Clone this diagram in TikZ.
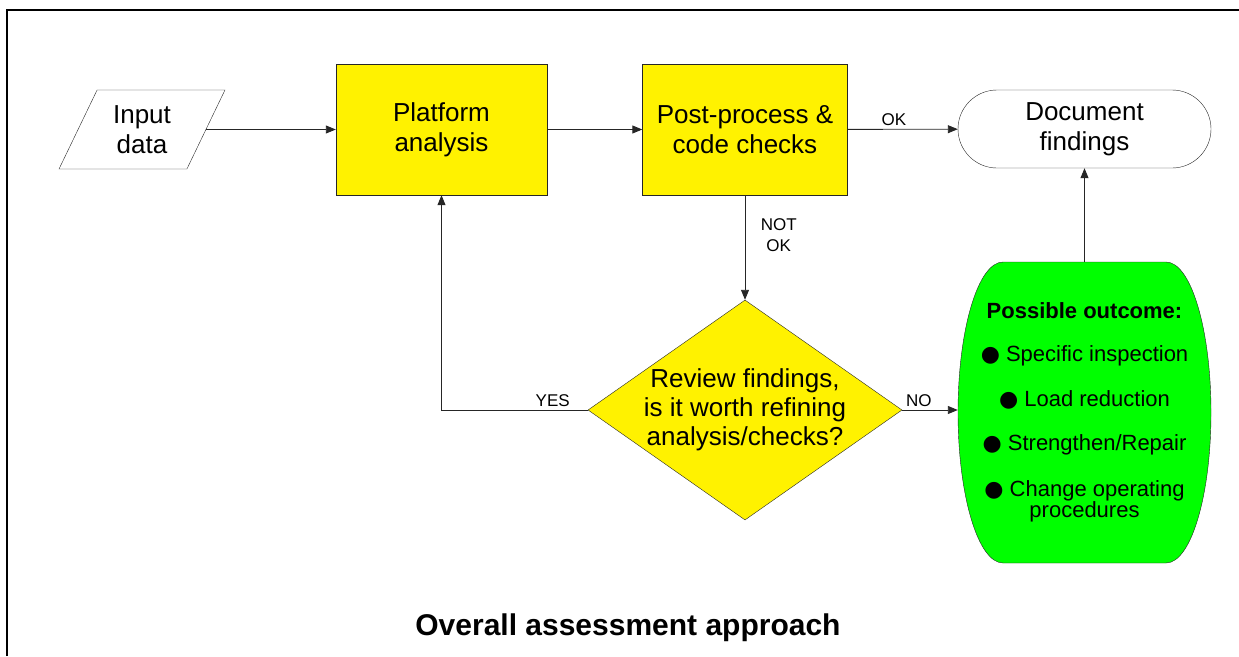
\documentclass[tikz,border=0pt]{standalone}
\usepackage{fontspec}
\setmainfont{Liberation Sans}
\newfontfamily\symfont{DejaVu Sans}
\usetikzlibrary{shapes.geometric,arrows.meta}

\begin{document}
\begin{tikzpicture}[x=1pt, y=-1pt,
box/.style={draw=black!85, fill=yellow, minimum width=211pt, minimum height=131pt, align=center, font=\fontsize{26}{30}\selectfont},
lbl/.style={font=\fontsize{17}{21}\selectfont, align=center},
arr/.style={draw=black!85, line width=0.9pt, -{Triangle[length=10pt,width=8pt]}},
]
\useasboundingbox (0,0) rectangle (1239,656);
\draw[line width=1.6pt] (7,656) -- (7,10) -- (1239,10);

\node [trapezium, trapezium left angle=63, trapezium right angle=117, trapezium stretches=true,
	draw=black!85, minimum width=166pt, minimum height=79pt, inner sep=0pt,
	align=center, font=\fontsize{26}{30}\selectfont] (input) at (142,129.5) {Input\\data};
\node [box] (platform) at (441.5,129.5) {Platform\\analysis};
\node [box, minimum width=205pt] (post) at (745,129.5) {Post-process \&\\code checks};
\node [draw=black!85, rounded corners=39pt, minimum width=253pt, minimum height=78pt,
	align=center, font=\fontsize{26}{30}\selectfont] (doc) at (1084.5,129) {Document\\findings};

% decision
\node [diamond, draw=black!85, fill=yellow, minimum width=314pt, minimum height=220pt, inner sep=0pt] (review) at (745,410) {};
\node [align=center, font=\fontsize{26}{29}\selectfont] (reviewtxt) at (review.center) {Review findings,\\is it worth refining\\analysis/checks?};

% outcome
\draw [draw=black!85, fill=green] (1003,262) -- (1166,262)
	arc [start angle=-90, end angle=0, x radius=45, y radius=150.5]
	arc [start angle=0, end angle=90, x radius=45, y radius=150.5] -- (1003,563)
	arc [start angle=90, end angle=180, x radius=45, y radius=150.5]
	arc [start angle=180, end angle=270, x radius=45, y radius=150.5] -- cycle;
\node [minimum width=253pt, minimum height=301pt, align=center, font=\fontsize{22}{21}\selectfont] (outcome) at (1084.5,412.5)
	{\textbf{Possible outcome:}\\[22pt]
	{\symfont ●} Specific inspection\\[24pt]
	{\symfont ●} Load reduction\\[23pt]
	{\symfont ●} Strengthen/Repair\\[25pt]
	{\symfont ●} Change operating\\procedures};

\draw [arr] (input.east) -- (platform.west);
\draw [arr] (platform) -- (post);
\draw [arr] (post) -- node[lbl, above, pos=0.42] (ok) {OK} (doc);
\draw [arr] (post.south) -- node[lbl, right=12pt, pos=0.38] (notok) {NOT\\OK} (review.north);
\draw [arr] (review.west) -| node[lbl, above, pos=0.12] (yes) {YES} (platform.south);
\draw [arr] (review.east) -- node[lbl, above, pos=0.3] (no) {NO} (review.east -| outcome.west);
\draw [arr] (outcome.north) -- (doc.south);

\node [font=\fontsize{30}{34}\selectfont\bfseries] (title) at (628,628) {Overall assessment approach};
\end{tikzpicture}
\end{document}
